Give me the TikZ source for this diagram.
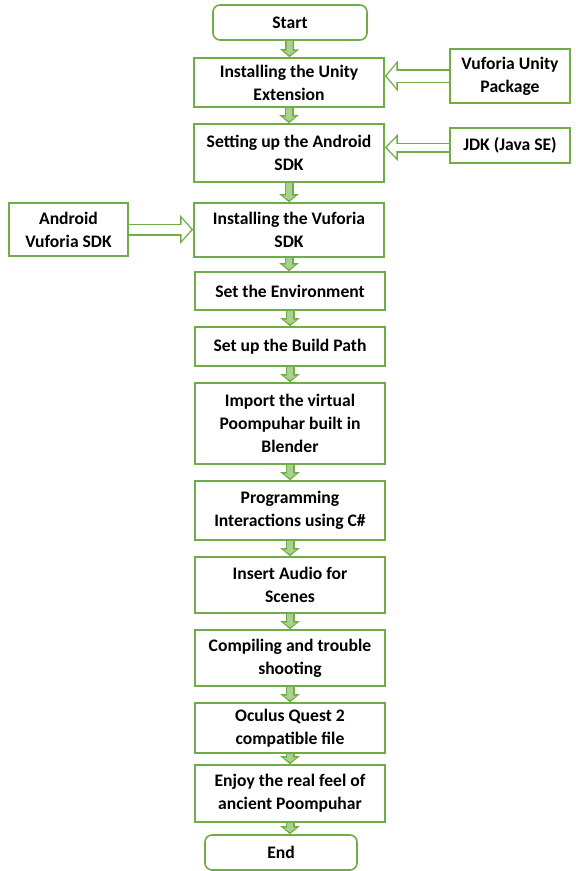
\documentclass[tikz,border=0pt]{standalone}
\usepackage{fontspec}
\setmainfont{Carlito}
\usetikzlibrary{arrows.meta}
\definecolor{flowgreen}{HTML}{70AD47}
\definecolor{flowlight}{HTML}{A9D18E}
\begin{document}
\begin{tikzpicture}[x=1pt,y=-1pt,
every node/.style={font=\bfseries\fontsize{17.6}{23}\selectfont,align=center,inner sep=2pt},
stepbox/.style={draw=flowgreen,line width=1.6pt,rectangle,minimum width=190pt},
termbox/.style={stepbox,rounded corners=7pt,minimum width=154pt,minimum height=35pt},
inbox/.style={draw=flowgreen,line width=1.6pt,rectangle,minimum width=120pt},
downarrow/.style={draw=flowgreen,line width=9pt,-{Triangle[length=8pt,width=19pt]},
  postaction={draw=flowlight,line width=6pt,-{Triangle[length=4.5pt,width=12.5pt]},shorten >=2pt}},
sidearrow/.style={draw=flowgreen,line width=#1,-{Triangle[length=13pt,width={#1+16pt}]},
  postaction={draw=white,line width={#1-3pt},-{Triangle[length=9.5pt,width={#1+9pt}]},shorten >=2pt}},
sidearrow/.default=12pt]
\useasboundingbox (0,0) rectangle (576,871);
% main column
\node[termbox] (start) at (290,22.5) {Start};
\node[stepbox,minimum height=49pt] (unity) at (289,82.5) {Installing the Unity\\Extension};
\node[stepbox,minimum height=58pt] (android) at (289,153) {Setting up the Android\\SDK};
\node[stepbox,minimum height=54pt] (vsdk) at (289,230) {Installing the Vuforia\\SDK};
\node[stepbox,minimum height=38pt] (env) at (290,291) {Set the Environment};
\node[stepbox,minimum height=39pt] (build) at (290,346.5) {Set up the Build Path};
\node[stepbox,minimum height=81pt] (import) at (290,423.5) {Import the virtual\\Poompuhar built in\\Blender};
\node[stepbox,minimum height=59pt] (prog) at (290,510.5) {Programming\\Interactions using C\#};
\node[stepbox,minimum height=56pt] (audio) at (290,585) {Insert Audio for\\Scenes};
\node[stepbox,minimum height=56pt] (compile) at (290,658) {Compiling and trouble\\shooting};
\node[stepbox,minimum height=50pt] (oculus) at (290,728) {Oculus Quest 2\\compatible file};
\node[stepbox,minimum height=57pt] (enjoy) at (290,793.5) {Enjoy the real feel of\\ancient Poompuhar};
\node[termbox,minimum width=152pt] (end) at (281,852.5) {End};
% inputs
\node[inbox,minimum height=54pt] (vup) at (510,76) {Vuforia Unity\\Package};
\node[inbox,minimum height=35pt] (jdk) at (510,145.5) {JDK (Java SE)};
\node[inbox,minimum height=53pt,minimum width=119pt] (avsdk) at (68.5,229.5) {Android\\Vuforia SDK};
% flow
\draw[downarrow] (start) -- (unity);
\draw[downarrow] (unity) -- (android);
\draw[downarrow] (android) -- (vsdk);
\draw[downarrow] (vsdk.south) -- (vsdk.south |- env.north);
\draw[downarrow] (env) -- (build);
\draw[downarrow] (build) -- (import);
\draw[downarrow] (import) -- (prog);
\draw[downarrow] (prog) -- (audio);
\draw[downarrow] (audio) -- (compile);
\draw[downarrow] (compile) -- (oculus);
\draw[downarrow] (oculus) -- (enjoy);
\draw[downarrow] (enjoy.south) -- (enjoy.south |- end.north);
\draw[sidearrow=14pt] (vup.west) -- (vup.west -| unity.east);
\draw[sidearrow=10pt] ([yshift=-2pt]jdk.west) -- ([yshift=-2pt]jdk.west -| android.east);
\draw[sidearrow] (avsdk.east) -- (avsdk.east -| vsdk.west);
\end{tikzpicture}
\end{document}
